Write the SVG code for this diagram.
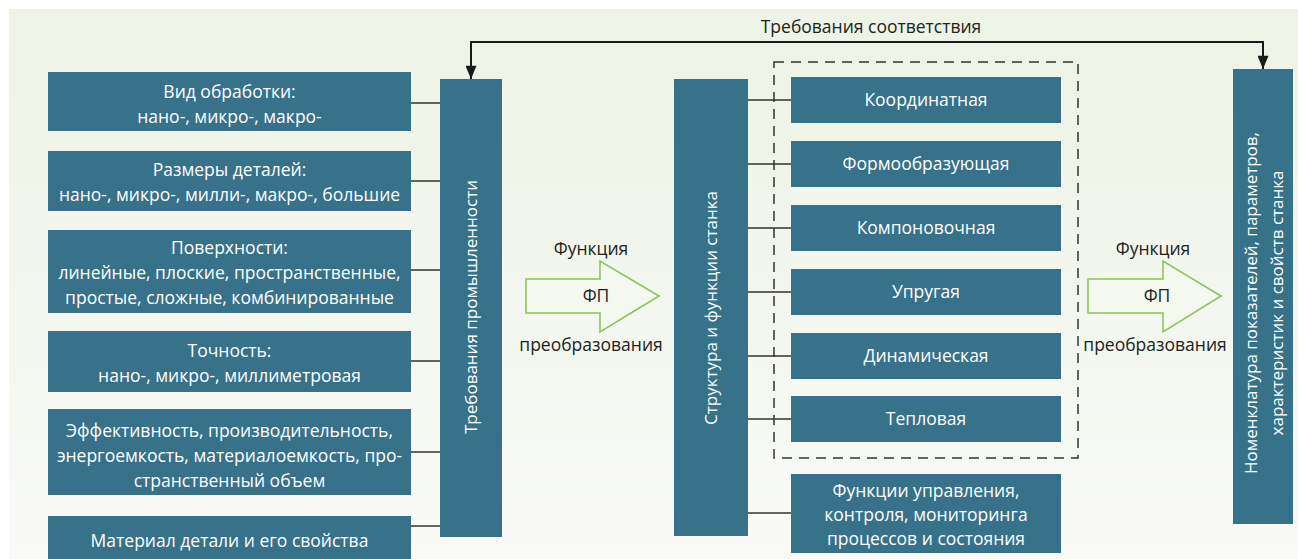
<svg xmlns="http://www.w3.org/2000/svg" width="1298" height="559" viewBox="0 0 1298 559">
<defs>
<linearGradient id="bg" x1="0" y1="0" x2="0" y2="1">
<stop offset="0" stop-color="#edf3e5"/>
<stop offset="1" stop-color="#f9faf7"/>
</linearGradient>
<marker id="ah2" viewBox="0 0 12 10" refX="12" refY="5" markerWidth="17" markerHeight="11" markerUnits="userSpaceOnUse" orient="auto">
<path d="M0,0 L12,5 L0,10 z" fill="#1a1a1a"/>
</marker>
</defs>
<style>
.box{fill:#37718a}
.wt{fill:#ffffff;font-family:"Open Sans","Noto Sans",sans-serif;font-size:17.5px;text-anchor:middle}
.rt{fill:#ffffff;font-family:"Open Sans","Noto Sans",sans-serif;font-size:17px;text-anchor:middle}
.dt{fill:#222222;font-family:"Open Sans","Noto Sans",sans-serif;font-size:17.5px;text-anchor:middle}
.con{stroke:#333333;stroke-width:1.5;fill:none}
.fpa{fill:#f4f8ef;stroke:#86c450;stroke-width:1.5}
</style>
<rect x="9" y="9" width="1289" height="550" fill="url(#bg)"/>

<g id="connectors">
<path class="con" d="M411,103H440 M411,181H440 M411,270H440 M411,361H440 M411,452H440 M411,526H440"/>
<path class="con" d="M748,100H791 M748,164H791 M748,228H791 M748,292H791 M748,356H791 M748,419H791 M748,513H791"/>
<path d="M1263,42H471V79" stroke="#1a1a1a" stroke-width="2" fill="none" marker-end="url(#ah2)"/>
<path d="M1000,42H1263V69" stroke="#1a1a1a" stroke-width="2" fill="none" marker-end="url(#ah2)"/>
<rect x="774" y="62" width="304" height="396" fill="none" stroke="#333333" stroke-width="1.5" stroke-dasharray="10,7"/>
</g>

<text class="dt" x="871" y="33">Требования соответствия</text>

<g id="n-vid"><rect class="box" x="48" y="72" width="363" height="59"/>
<text class="wt" x="229.5" y="98">Вид обработки:</text>
<text class="wt" x="229.5" y="123">нано-, микро-, макро-</text></g>

<g id="n-razmery"><rect class="box" x="48" y="151" width="363" height="60"/>
<text class="wt" x="229.5" y="176">Размеры деталей:</text>
<text class="wt" x="229.5" y="201">нано-, микро-, милли-, макро-, большие</text></g>

<g id="n-poverh"><rect class="box" x="48" y="230" width="363" height="83"/>
<text class="wt" x="229.5" y="254">Поверхности:</text>
<text class="wt" x="229.5" y="279">линейные, плоские, пространственные,</text>
<text class="wt" x="229.5" y="304">простые, сложные, комбинированные</text></g>

<g id="n-tochnost"><rect class="box" x="48" y="331" width="363" height="61"/>
<text class="wt" x="229.5" y="357">Точность:</text>
<text class="wt" x="229.5" y="382">нано-, микро-, миллиметровая</text></g>

<g id="n-effekt"><rect class="box" x="48" y="409" width="363" height="86"/>
<text class="wt" x="229.5" y="437">Эффективность, производительность,</text>
<text class="wt" x="229.5" y="462">энергоемкость, материалоемкость, про-</text>
<text class="wt" x="229.5" y="487">странственный объем</text></g>

<g id="n-material"><rect class="box" x="48" y="516" width="363" height="43"/>
<text class="wt" x="229.5" y="547">Материал детали и его свойства</text></g>

<g id="n-treb"><rect class="box" x="440" y="79" width="62" height="458"/>
<text class="rt" transform="translate(477,307) rotate(-90)">Требования промышленности</text></g>

<g id="n-fp1">
<path class="fpa" d="M526,279H600V261L659,296L600,332V313H526Z"/>
<text class="dt" x="591" y="255">Функция</text>
<text class="dt" x="596" y="302">ФП</text>
<text class="dt" x="591" y="351">преобразования</text>
</g>

<g id="n-struct"><rect class="box" x="674" y="79" width="74" height="457"/>
<text class="rt" transform="translate(717,308) rotate(-90)">Структура и функции станка</text></g>

<g id="n-koord"><rect class="box" x="791" y="77" width="270" height="46"/>
<text class="wt" x="926" y="106">Координатная</text></g>
<g id="n-formo"><rect class="box" x="791" y="141" width="270" height="46"/>
<text class="wt" x="926" y="170">Формообразующая</text></g>
<g id="n-kompon"><rect class="box" x="791" y="205" width="270" height="46"/>
<text class="wt" x="926" y="234">Компоновочная</text></g>
<g id="n-uprug"><rect class="box" x="791" y="269" width="270" height="46"/>
<text class="wt" x="926" y="298">Упругая</text></g>
<g id="n-dinam"><rect class="box" x="791" y="333" width="270" height="46"/>
<text class="wt" x="926" y="362">Динамическая</text></g>
<g id="n-teplo"><rect class="box" x="791" y="396" width="270" height="46"/>
<text class="wt" x="926" y="425">Тепловая</text></g>
<g id="n-upr"><rect class="box" x="791" y="474" width="270" height="79"/>
<text class="wt" x="926" y="497">Функции управления,</text>
<text class="wt" x="926" y="521">контроля, мониторинга</text>
<text class="wt" x="926" y="545">процессов и состояния</text></g>

<g id="n-fp2">
<path class="fpa" d="M1088,279H1163V261L1221,296L1163,332V313H1088Z"/>
<text class="dt" x="1153" y="255">Функция</text>
<text class="dt" x="1157" y="302">ФП</text>
<text class="dt" x="1155" y="351">преобразования</text>
</g>

<g id="n-nomen"><rect class="box" x="1233" y="69" width="60" height="455"/>
<text class="rt" transform="translate(1257,303) rotate(-90)">Номенклатура показателей, параметров,</text>
<text class="rt" transform="translate(1283,303) rotate(-90)">характеристик и свойств станка</text></g>
</svg>
